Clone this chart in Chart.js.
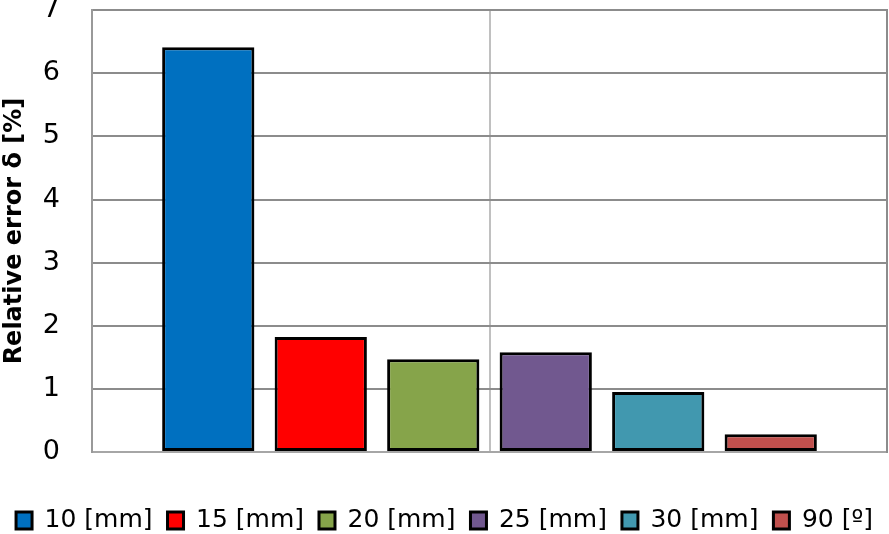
<!DOCTYPE html>
<html>
<head>
<meta charset="utf-8">
<script src="https://cdn.jsdelivr.net/npm/chart.js@4/dist/chart.umd.min.js"></script>
<style>
    html, body { margin: 0; padding: 0; background: #ffffff; }
    #wrap { width: 889px; height: 534px; }
</style>
</head>
<body>
<div id="wrap"><canvas id="myChart" width="889" height="534"></canvas></div>
<script>
var seriesNames = ['10 [mm]', '15 [mm]', '20 [mm]', '25 [mm]', '30 [mm]', '90 [º]'];
var seriesValues = [6.41, 1.82, 1.47, 1.58, 0.95, 0.28];
var seriesColors = ['#0070C0', '#FF0000', '#86A44A', '#71588F', '#4198AF', '#C0504D'];
var categories = [''];
var yTicks = [0, 1, 2, 3, 4, 5, 6, 7];

var datasets = [];
for (var i = 0; i < seriesNames.length; i++) {
    datasets.push({
        label: seriesNames[i],
        data: [seriesValues[i]],
        backgroundColor: seriesColors[i],
        borderColor: '#000000',
        borderWidth: 3,
        borderSkipped: false,
        categoryPercentage: 0.849,
        barPercentage: 0.82
    });
}

var ctx = document.getElementById('myChart');
var myChart = new Chart(ctx, {
    type: 'bar',
    data: {
        labels: categories,
        datasets: datasets
    },
    options: {
        responsive: false,
        animation: false,
        layout: { padding: { left: 0, right: 0, top: 0, bottom: -9 } },
        plugins: {
            tooltip: { enabled: false },
            legend: {
                position: 'bottom',
                labels: {
                    font: { family: 'DejaVu Sans', size: 25 },
                    color: '#000000',
                    boxWidth: 16,
                    boxHeight: 17,
                    padding: 15,
                    useBorderRadius: false
                }
            }
        },
        scales: {
            x: {
                offset: true,
                ticks: { display: false },
                grid: { offset: false, color: '#c0c0c0', lineWidth: 2, drawTicks: false },
                border: { color: '#a6a6a6', width: 2 },
                afterFit: function(axis) { axis.height = 41; }
            },
            y: {
                min: 0,
                max: 7,
                afterBuildTicks: function(axis) {
                    axis.ticks = yTicks.map(function(v) { return { value: v }; });
                },
                afterFit: function(axis) { axis.width = 92; },
                ticks: {
                    font: { family: 'DejaVu Sans', size: 27, lineHeight: 0.75 },
                    color: '#000000',
                    padding: 0
                },
                grid: { color: '#8c8c8c', lineWidth: 2, drawTicks: true, tickLength: 32, tickColor: 'rgba(0,0,0,0)' },
                border: { color: '#999999', width: 2 },
                title: {
                    display: true,
                    text: 'Relative error δ [%]',
                    font: { family: 'DejaVu Sans', size: 24, weight: 'bold' },
                    color: '#000000',
                    padding: 0
                }
            },
            y2: {
                position: 'right',
                min: 0,
                max: 7,
                ticks: { display: false },
                grid: { display: false },
                border: { color: '#8c8c8c', width: 2 },
                afterFit: function(axis) { axis.width = 2; }
            }
        }
    }
});
</script>
</body>
</html>
